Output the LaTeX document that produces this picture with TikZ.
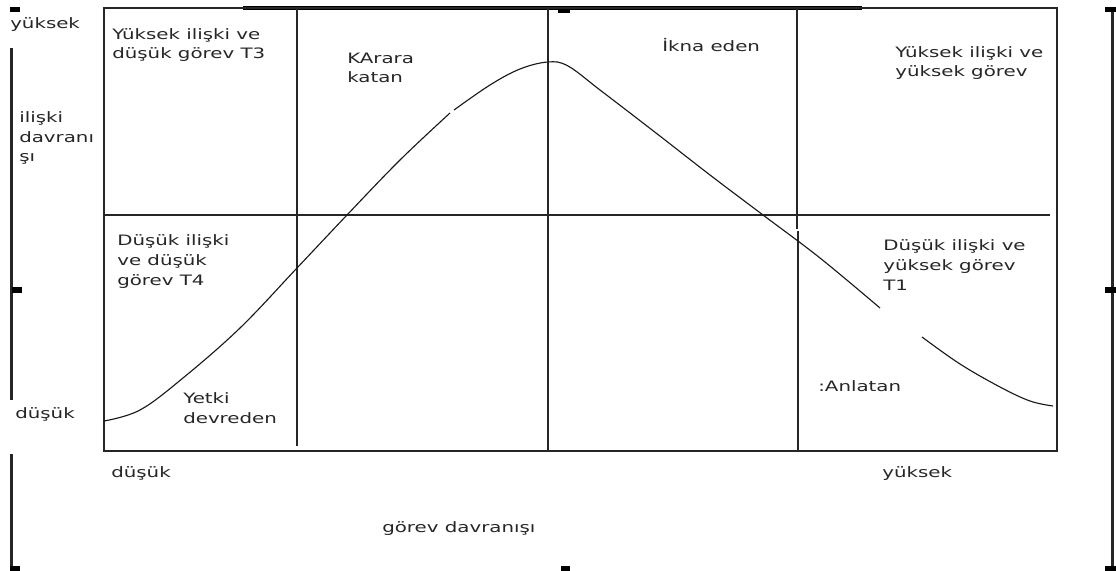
\documentclass[tikz,border=0pt]{standalone}
\usepackage{fontspec}
\setmainfont{DejaVu Sans}[FakeStretch=1.38]
\tikzset{
  lbl/.style={anchor=base west, inner sep=0pt, align=left, font=\fontsize{10.2}{14.2}\selectfont, text=black!85},
  frm/.style={line width=1.4pt, draw=black!85},
  sel/.style={line width=1.5pt, draw=black!85},
  curve/.style={line width=0.8pt, draw=black!90},
  handle/.style={fill=black}
}

\begin{document}
\begin{tikzpicture}[x=0.025cm, y=-0.025cm]
\useasboundingbox (0,0) rectangle (1116,571);
% selection frame and handles
\draw[sel] (11.5,48) -- (11.5,400);
\draw[sel] (11.5,454) -- (11.5,571);
\draw[sel] (1112.5,8) -- (1112.5,571);
\draw[line width=2.4pt] (243,8) -- (862,8);
\fill[handle] (10,7) rectangle (20,12);
\fill[handle] (558,8) rectangle (570,13);
\fill[handle] (1105,7) rectangle (1116,12);
\fill[handle] (12,287) rectangle (22,293);
\fill[handle] (1105,287) rectangle (1116,293);
\fill[handle] (10,566) rectangle (20,571);
\fill[handle] (561,566) rectangle (570,571);
\fill[handle] (1105,566) rectangle (1116,571);
% box and quadrants
\draw[frm] (104,8) rectangle (1057,451);
\draw[frm] (297,8) -- (297,446);
\draw[frm] (548,8) -- (548,451);
\draw[frm] (797,8) -- (797,229);
\draw[frm] (798,231) -- (798,451);
\draw[frm] (104,215) -- (1050,215);
% curve
\draw[curve] plot[smooth, tension=0.6] coordinates {(104,421) (140,410) (183,378) (240,328) (297,268) (347,215) (400,160) (450,113)};
\draw[curve] plot[smooth, tension=0.6] coordinates {(454,110) (490,85) (520,69) (548,62) (568,66) (600,90) (656,133) (710,175) (763,215) (820,258) (880,308)};
\draw[curve] plot[smooth, tension=0.6] coordinates {(922,337) (960,364) (1000,387) (1030,401) (1053,406)};
% labels (base = last line)
\node[lbl] (yhigh) at (10,29) {yüksek};
\node[lbl] (yaxis) at (19,162) {ilişki\\davranı\\şı};
\node[lbl] (ylow) at (15,418) {düşük};
\node[lbl] (qthree) at (112,59) {Yüksek ilişki ve\\düşük görev T3};
\node[lbl] (karar) at (347,83) {KArara\\katan};
\node[lbl] (ikna) at (662,52) {İkna eden};
\node[lbl] (qtwo) at (895,77) {Yüksek ilişki ve\\yüksek görev};
\node[lbl] (qfour) at (117,285) {Düşük ilişki\\ve düşük\\görev T4};
\node[lbl] (yetki) at (183,423) {Yetki\\devreden};
\node[lbl] (qone) at (883,290) {Düşük ilişki ve\\yüksek görev\\T1};
\node[lbl] (anlat) at (818,391) {:Anlatan};
\node[lbl] (xlow) at (111,477) {düşük};
\node[lbl] (xhigh) at (882,477) {yüksek};
\node[lbl] (xaxis) at (382,532) {görev davranışı};
\end{tikzpicture}
\end{document}
